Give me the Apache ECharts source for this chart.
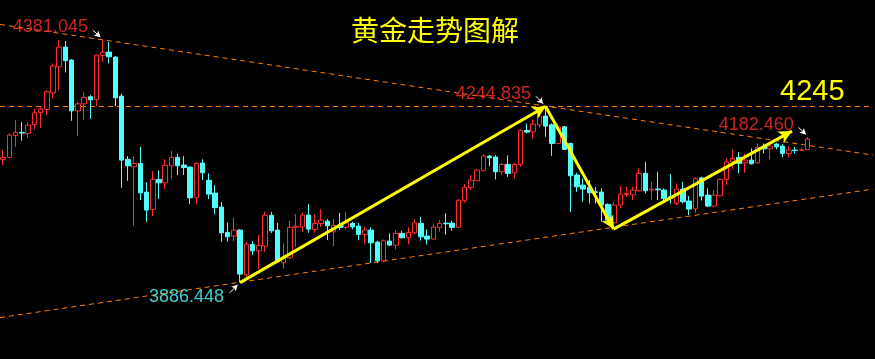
<!DOCTYPE html>
<html><head><meta charset="utf-8">
<script src="https://cdn.jsdelivr.net/npm/echarts@6/dist/echarts.min.js"></script>
<style>html,body{margin:0;padding:0;background:#000;}#c{width:875px;height:359px;}</style>
</head><body><div id="c"></div>
<script>
// ---- data ----
const opens = [4137.2,4141.2,4186.0,4192.1,4190.1,4208.4,4232.8,4238.9,4272.7,4325.6,
4365.7,4339.3,4236.1,4250.3,4264.6,4259.3,4348.8,4355.6,4345.4,4266.0,
4137.2,4122.1,4129.0,4070.6,4035.4,4096.5,4089.5,4124.1,4141.2,4125.6,
4121.5,4059.0,4129.6,4094.6,4068.6,4040.1,3988.6,3981.0,3993.3,3902.1,
3964.2,3951.1,3960.7,4023.4,3993.3,3926.7,3936.9,3998.8,3999.8,4023.8,
3994.7,4006.9,4011.6,3989.8,4002.8,3998.8,4006.9,4001.4,3984.5,3993.3,
3968.8,3930.8,3970.9,3962.7,3986.5,3977.6,3987.8,4006.9,3981.0,3974.9,
3998.8,4007.5,4007.5,3998.8,4052.9,4080.2,4093.6,4114.0,4143.9,4141.8,
4111.9,4127.0,4109.9,4127.0,4196.2,4193.3,4207.6,4225.3,4207.6,4169.7,
4203.5,4169.7,4105.2,4084.8,4080.2,4071.2,4070.6,4045.6,4008.1,4044.1,
4065.5,4065.1,4073.3,4108.7,4074.7,4076.7,4074.7,4061.0,4047.6,4076.7,
4052.3,4036.6,4099.5,4064.5,4042.1,4063.1,4096.5,4132.3,4141.2,4130.2,
4135.7,4130.2,4162.8,4158.7,4168.3,4164.2,4149.4,4156.1,4155.5,4157.5];
const closes = [4141.2,4186.6,4192.1,4190.7,4207.0,4232.0,4239.5,4274.8,4327.1,4365.7,
4337.9,4236.1,4250.3,4263.4,4258.5,4349.5,4355.0,4346.0,4262.5,4135.7,
4124.1,4129.0,4069.2,4034.0,4096.5,4089.5,4125.0,4141.2,4124.1,4120.5,
4059.0,4129.0,4109.9,4066.5,4039.1,3987.8,3979.6,3993.3,3903.7,3964.4,
3951.1,3962.1,4023.4,3991.8,3928.7,3937.7,3998.8,4001.4,4023.8,3995.3,
4006.9,4013.6,4002.0,4002.8,3998.8,4008.1,3999.8,3984.5,3993.3,3967.4,
3930.8,3971.5,3962.7,3986.5,3977.6,3988.6,4008.1,3979.6,3974.9,3999.4,
4006.9,4006.1,3998.8,4053.9,4080.2,4095.0,4115.4,4143.9,4140.4,4111.9,
4127.0,4108.7,4127.0,4196.2,4192.7,4209.0,4225.3,4204.9,4169.7,4203.5,
4157.5,4103.8,4081.4,4076.7,4069.2,4070.0,4044.1,4013.6,4044.1,4066.5,
4067.5,4074.7,4108.7,4073.3,4076.7,4075.3,4057.8,4057.8,4076.7,4050.9,
4036.0,4098.5,4062.5,4042.1,4064.5,4096.5,4132.3,4139.2,4129.0,4135.7,
4128.2,4161.6,4158.7,4164.2,4162.8,4149.4,4156.1,4155.1,4156.7,4178.4];
const lows = [4125.6,4139.8,4162.8,4175.0,4181.1,4198.2,4201.5,4227.3,4261.3,4278.2,
4314.2,4215.7,4185.2,4217.2,4219.8,4245.6,4335.8,4332.6,4245.6,4079.4,
4093.6,4002.0,4054.3,4010.2,4021.8,4056.4,4076.7,4097.1,4105.2,4105.2,
4046.2,4045.2,4095.0,4056.4,4025.2,3969.4,3969.8,3970.9,3886.448,3898.2,
3942.4,3913.9,3949.1,3987.2,3928.1,3914.5,3934.9,3959.3,3989.8,3987.8,
3987.8,3999.8,3972.9,3960.7,3993.3,3994.7,3994.7,3972.9,3964.8,3926.7,
3926.7,3930.2,3960.7,3954.0,3976.4,3964.2,3984.5,3971.9,3963.8,3973.9,
3989.8,3984.1,3992.2,3998.3,4048.8,4074.7,4093.0,4113.5,4123.5,4096.5,
4105.2,4101.7,4098.5,4122.1,4190.1,4179.1,4202.3,4183.2,4144.5,4167.7,
4157.0,4030.5,4071.2,4050.9,4047.6,4047.6,4010.2,4010.2,3995.3,4037.4,
4061.0,4054.3,4071.2,4068.0,4054.3,4054.3,4050.9,4047.6,4044.1,4047.6,
4023.8,4028.5,4053.3,4040.7,4040.7,4062.0,4084.8,4116.8,4108.7,4109.9,
4127.0,4129.5,4149.4,4137.2,4157.5,4141.2,4141.2,4149.4,4154.1,4157.0];
const highs = [4156.1,4190.7,4217.2,4213.1,4213.1,4241.0,4243.0,4278.2,4332.6,4380.0,
4378.0,4341.3,4254.4,4274.1,4268.0,4349.5,4381.045,4376.5,4347.4,4271.5,
4143.9,4143.9,4162.2,4091.0,4113.4,4114.4,4137.8,4154.1,4148.6,4143.9,
4122.5,4131.7,4137.4,4108.7,4084.8,4050.3,4008.9,4019.1,3995.0,3969.2,
3970.9,3983.1,4030.9,4030.3,4008.1,3966.2,4012.2,4025.8,4028.5,4046.2,
4025.8,4036.0,4015.7,4015.7,4028.5,4030.5,4010.2,4008.1,3999.8,3998.8,
3971.5,3974.3,3986.5,3993.3,3991.8,3998.8,4015.0,4020.3,3994.7,4005.5,
4013.6,4027.3,4012.6,4056.4,4086.9,4105.2,4116.8,4148.0,4145.9,4145.9,
4130.2,4145.3,4130.2,4198.2,4210.4,4218.6,4230.8,4244.835,4210.4,4210.4,
4204.9,4170.9,4109.9,4098.5,4095.0,4081.4,4078.1,4047.6,4050.9,4082.8,
4081.4,4081.4,4118.8,4132.3,4091.6,4111.9,4078.1,4107.3,4088.3,4091.6,
4062.5,4100.5,4102.2,4078.1,4074.7,4097.7,4139.2,4157.5,4152.6,4149.4,
4159.5,4169.7,4169.7,4168.3,4170.9,4168.3,4164.2,4162.8,4161.6,4182.46];
const slotCount = 140;
const categories = Array.from({length: slotCount}, (_, i) => String(i + 1));
const resistanceLevel = 4244.835;
const upperTrend = [[-0.5, 4411.9], [139.5, 4145.9]];
const lowerTrend = [[-0.5, 3815.2], [139.5, 4076.7]];
const swingPath = [[38, 3886.448], [87, 4244.835], [97.9, 3995.3], [126.5, 4194.8]];
const targetText = '4245';
const titleText = '黄金走势图解';

// ---- annotation layout ----
const RED = '#ff2e2e', CYAN = '#52ffff', YELLOW = '#ffff00', ORANGE = '#ff8000';
const priceNotes = [
  { text: highs[16].toFixed(3), at: [7.58, 4406.4], color: RED },
  { text: highs[87].toFixed(3), at: [78.62, 4270.1], color: RED },
  { text: highs[129].toFixed(3), at: [120.78, 4207.0], color: RED },
  { text: lows[38].toFixed(3), at: [29.42, 3857.4], color: CYAN }
];
const pointerArrows = [
  [[14.38, 4400.3], [15.6, 4386.0]],
  [[85.42, 4266.0], [86.6, 4250.5]],
  [[127.55, 4202.3], [128.75, 4188.0]],
  [[36.35, 3865.6], [37.6, 3882.0]]
];

const candleData = opens.map((o, i) => [o, closes[i], lows[i], highs[i]]);
const dashed = { color: ORANGE, width: 1, type: [5, 4] };

const chart = echarts.init(document.getElementById('c'), null, { renderer: 'canvas' });
chart.setOption({
  animation: false,
  backgroundColor: '#000000',
  title: {
    text: titleText, left: 346, top: 11,
    textStyle: { color: YELLOW, fontSize: 28, fontWeight: 'normal', fontFamily: 'Noto Sans CJK SC' }
  },
  graphic: [{
    type: 'text', left: 780, top: 77,
    style: { text: targetText, fill: YELLOW, fontSize: 29, fontFamily: 'Liberation Sans, Arial' }
  }],
  grid: { left: -2, right: 2, top: 0, bottom: 0 },
  xAxis: [
    { type: 'category', data: categories, boundaryGap: true, show: false },
    { type: 'value', min: -0.5, max: 139.5, show: false }
  ],
  yAxis: { type: 'value', min: 3730.9, max: 4461.6, show: false, splitLine: { show: false } },
  series: [
    {
      type: 'line', xAxisIndex: 1, data: [[-0.5, resistanceLevel], [139.5, resistanceLevel]],
      showSymbol: false, lineStyle: dashed, silent: true, z: 1
    },
    { type: 'line', xAxisIndex: 1, data: upperTrend, showSymbol: false, lineStyle: dashed, silent: true, z: 1 },
    { type: 'line', xAxisIndex: 1, data: lowerTrend, showSymbol: false, lineStyle: dashed, silent: true, z: 1 },
    {
      type: 'candlestick', xAxisIndex: 0, data: candleData, barWidth: 5, z: 2,
      itemStyle: { color: '#000000', color0: CYAN, borderColor: RED, borderColor0: CYAN, borderWidth: 1 }
    },
    {
      type: 'line', xAxisIndex: 1, data: swingPath, showSymbol: false,
      lineStyle: { opacity: 0 }, silent: true, z: 5,
      markLine: {
        silent: true, symbol: ['none', 'arrow'], symbolSize: [10, 13], animation: false,
        label: { show: false },
        lineStyle: { color: YELLOW, width: 3, type: 'solid' },
        data: swingPath.slice(1).map((p, i) => [{ coord: swingPath[i] }, { coord: p }])
      }
    },
    {
      type: 'line', xAxisIndex: 1, data: pointerArrows.map(a => a[1]), showSymbol: false,
      lineStyle: { opacity: 0 }, silent: true, z: 6,
      markLine: {
        silent: true, symbol: ['none', 'arrow'], symbolSize: [5, 6], animation: false,
        label: { show: false },
        lineStyle: { color: '#ffffff', width: 1, type: 'solid' },
        data: pointerArrows.map(a => [{ coord: a[0] }, { coord: a[1] }])
      }
    },
    {
      type: 'scatter', xAxisIndex: 1, symbolSize: 0, silent: true, z: 7,
      data: priceNotes.map(n => ({
        value: n.at,
        label: {
          show: true, formatter: n.text, color: n.color, position: [0, 0],
          align: 'center', verticalAlign: 'middle', fontSize: 18, fontFamily: 'Liberation Sans, Arial'
        }
      }))
    }
  ]
});
</script>
</body></html>
